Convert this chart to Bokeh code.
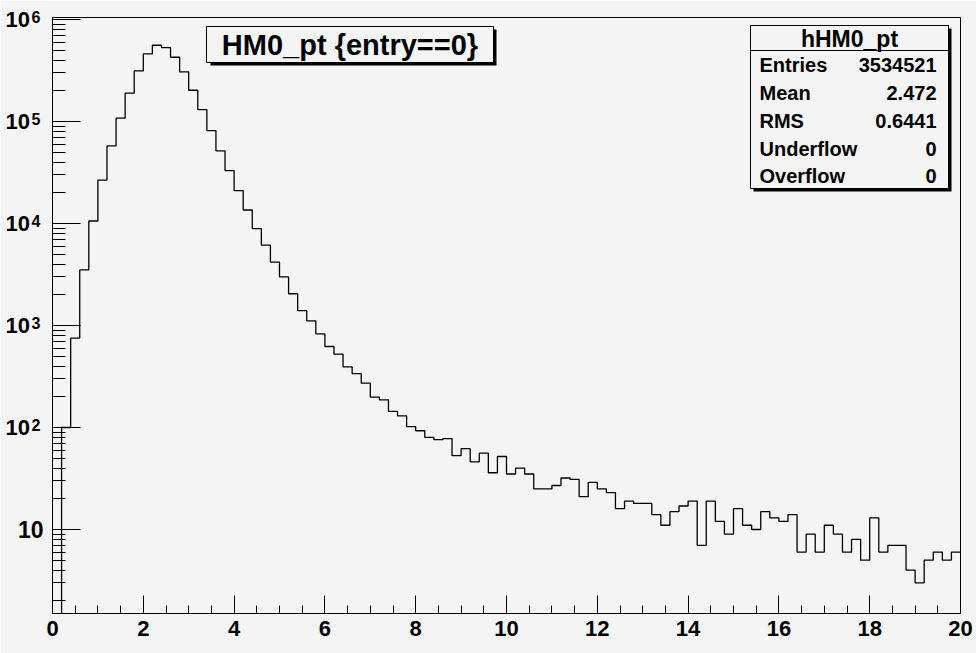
import numpy as np
from bokeh.plotting import figure
from bokeh.models import FixedTicker, BoxAnnotation, Label, ColumnDataSource
from bokeh.core.properties import value
from bokeh.embed import file_html
from bokeh.resources import INLINE

# ---------------- data ----------------
x_min, x_max = 0.0, 20.0
n_bins = 100
counts = [0, 100, 752, 3516, 10600, 26700, 57800, 108000, 190000, 314000,
          461000, 561000, 531000, 428000, 307000, 203000, 131000, 81700, 51600, 33100,
          21100, 13600, 8930, 6140, 4190, 3000, 2050, 1400, 1112, 830,
          623, 524, 393, 338, 272, 199, 187, 144, 130, 102,
          93, 80, 76, 78, 53, 62, 46, 56, 36, 52,
          35, 40, 35, 25, 25, 27, 32, 31, 21, 29,
          25, 23, 16, 19, 18, 18, 14, 11, 15, 17,
          19, 7, 19, 12, 9, 16, 11, 10, 15, 13,
          12, 14, 6, 9, 6, 11, 9, 6, 8, 5,
          13, 6, 7, 7, 4, 3, 5, 6, 5, 6]
x_ticks = [0, 2, 4, 6, 8, 10, 12, 14, 16, 18, 20]
x_tick_labels = ["0", "2", "4", "6", "8", "10", "12", "14", "16", "18", "20"]
y_ticks = [10, 100, 1000, 10000, 100000, 1000000]
y_tick_base = ["10", "10", "10", "10", "10", "10"]
y_tick_exp = ["", "2", "3", "4", "5", "6"]
title_text = "HM0_pt {entry==0}"
stats_title = "hHM0_pt"
stat_names = ["Entries", "Mean", "RMS", "Underflow", "Overflow"]
stat_values = ["3534521", "2.472", "0.6441", "0", "0"]

# ---------------- style ----------------
BG = "#f4f4f4"
FONT = "Liberation Sans"
W, H = 976, 653
L, R, T, B = 52, 16, 17, 40
Y_LO, Y_HI = 1.5, 1.05e6

edges = np.linspace(x_min, x_max, n_bins + 1)
cnt = np.array(counts, dtype=float)
y_draw = np.where(cnt > 0, cnt, 1e-2)
step_x = list(edges)
step_y = list(y_draw) + [y_draw[-1]]

p = figure(width=W, height=H, x_range=(x_min, x_max), y_range=(Y_LO, Y_HI),
           y_axis_type="log", output_backend="svg", toolbar_location=None,
           min_border_left=L, min_border_right=R, min_border_top=T, min_border_bottom=B)
p.background_fill_color = BG
p.border_fill_color = BG
p.outline_line_color = "black"
p.outline_line_width = 1
p.grid.visible = False

p.step(step_x, step_y, mode="after", line_color="black", line_width=1.3)

# x axis
xa = p.xaxis[0]
minor_x = [i * 0.5 for i in range(41)]
xa.ticker = FixedTicker(ticks=x_ticks, minor_ticks=minor_x)
xa.major_label_overrides = {t: s for t, s in zip(x_ticks, x_tick_labels)}
xa.major_tick_in = 18
xa.major_tick_out = 0
xa.minor_tick_in = 8
xa.minor_tick_out = 0
xa.major_tick_line_color = "black"
xa.minor_tick_line_color = "black"
xa.axis_line_color = "black"
xa.major_label_text_font = FONT
xa.major_label_text_font_style = "bold"
xa.major_label_text_font_size = "22px"
xa.major_label_text_color = "black"
xa.major_label_standoff = 7

# y axis: ticks from the axis, labels (base + raised exponent) as text drawn next to it
ya = p.yaxis[0]
minor_y = [k * 10 ** n for n in range(0, 6) for k in range(2, 10)]
ya.ticker = FixedTicker(ticks=y_ticks, minor_ticks=minor_y)
ya.major_label_overrides = {t: "" for t in y_ticks}
ya.major_label_text_font_size = "0px"
ya.major_tick_in = 28
ya.major_tick_out = 0
ya.minor_tick_in = 13
ya.minor_tick_out = 0
ya.major_tick_line_color = "black"
ya.minor_tick_line_color = "black"
ya.axis_line_color = "black"

exp_rows = [i for i, e in enumerate(y_tick_exp) if e]
plain_rows = [i for i, e in enumerate(y_tick_exp) if not e]
src_base = ColumnDataSource(dict(x=[x_min] * len(exp_rows), y=[y_ticks[i] for i in exp_rows],
                                 t=[y_tick_base[i] for i in exp_rows]))
src_exp = ColumnDataSource(dict(x=[x_min] * len(exp_rows), y=[y_ticks[i] for i in exp_rows],
                                t=[y_tick_exp[i] for i in exp_rows]))
src_plain = ColumnDataSource(dict(x=[x_min] * len(plain_rows), y=[y_ticks[i] for i in plain_rows],
                                  t=[y_tick_base[i] for i in plain_rows]))

p.text(x="x", y="y", text="t", source=src_base, x_offset=-22.5, level="overlay",
       text_font=value(FONT), text_font_style="bold", text_font_size=value("22px"),
       text_color="black", text_align="right", text_baseline="middle")
p.text(x="x", y="y", text="t", source=src_exp, x_offset=-21, y_offset=-3, level="overlay",
       text_font=value(FONT), text_font_style="bold", text_font_size=value("16px"),
       text_color="black", text_align="left", text_baseline="alphabetic")
p.text(x="x", y="y", text="t", source=src_plain, x_offset=-9, level="overlay",
       text_font=value(FONT), text_font_style="bold", text_font_size=value("23px"),
       text_color="black", text_align="right", text_baseline="middle")


def box(left, right, top, bottom, fill, line=True):
    # pixel coordinates from the canvas top-left -> frame screen units
    b = BoxAnnotation(left=left - L, right=right - L, top=(H - B) - top, bottom=(H - B) - bottom,
                      left_units="screen", right_units="screen", top_units="screen", bottom_units="screen",
                      fill_color=fill, fill_alpha=1.0,
                      line_color="black" if line else None, line_alpha=1.0, line_width=1)
    p.add_layout(b)


def label(text, x, y, size, align):
    lb = Label(x=x - L, y=(H - B) - y, x_units="screen", y_units="screen", text=text,
               text_font=FONT, text_font_style="bold", text_font_size=size,
               text_color="black", text_align=align, text_baseline="middle")
    p.add_layout(lb)


# title box with shadow
box(210, 496, 29, 65, "black", line=False)
box(206, 493, 26, 62, BG)
label(title_text, 349.5, 44, "29px", "center")

# stats box with shadow
box(753, 951, 28, 191, "black", line=False)
box(750, 948, 25, 188, BG)
box(750, 948, 25, 50, BG)
label(stats_title, 849, 38, "23px", "center")
row_y = [64.5, 92.5, 120, 148, 175.5]
for name, val, yy in zip(stat_names, stat_values, row_y):
    label(name, 759, yy, "20px", "left")
    label(val, 936, yy, "20px", "right")

open("out.html", "w").write(file_html(p, INLINE))
